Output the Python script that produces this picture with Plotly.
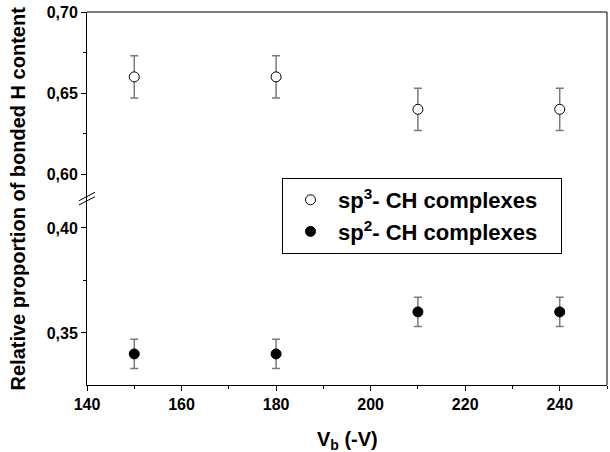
import plotly.graph_objects as go

vb = [150, 180, 210, 240]
sp3 = [0.66, 0.66, 0.64, 0.64]
sp3_err = [0.013, 0.013, 0.013, 0.013]
sp2 = [0.34, 0.34, 0.36, 0.36]
sp2_err = [0.007, 0.007, 0.007, 0.007]

FONT = "Arial, Liberation Sans, sans-serif"
ERRC = "#7a7a7a"

fig = go.Figure()
fig.add_trace(go.Scatter(
    x=vb, y=sp3, mode="markers", yaxis="y2", name="sp<sup>3</sup>- CH complexes\u00a0\u00a0\u00a0",
    marker=dict(symbol="circle", size=10, color="white", line=dict(color="black", width=1)),
    error_y=dict(type="data", array=sp3_err, color=ERRC, thickness=1.5, width=4),
))
fig.add_trace(go.Scatter(
    x=vb, y=sp2, mode="markers", yaxis="y", name="sp<sup>2</sup>- CH complexes\u00a0\u00a0\u00a0",
    marker=dict(symbol="circle", size=10, color="black", line=dict(color="black", width=1)),
    error_y=dict(type="data", array=sp2_err, color=ERRC, thickness=1.5, width=4),
))

axis_common = dict(
    showline=True, linecolor="black", linewidth=1, ticks="outside", ticklen=5,
    tickcolor="black", tickwidth=1, showgrid=False, zeroline=False,
    tickfont=dict(family=FONT, size=16, color="black", weight="bold"),
)

fig.update_layout(
    width=610, height=452,
    margin=dict(l=87, r=3, t=12, b=67),
    plot_bgcolor="white", paper_bgcolor="white",
    separators=",.",
    showlegend=True,
    legend=dict(
        x=0.375, y=0.555, xanchor="left", yanchor="top",
        bordercolor="black", borderwidth=1, bgcolor="white",
        font=dict(family=FONT, size=22, color="black", weight="bold"),
        traceorder="normal", itemwidth=45,
    ),
    xaxis=dict(
        range=[140, 250], tickvals=[140, 160, 180, 200, 220, 240], anchor="y",
        minor=dict(dtick=10, tick0=140, ticks="outside", ticklen=3, tickcolor="black"),
        **axis_common,
    ),
    yaxis=dict(
        domain=[0, 0.5], range=[0.3252, 0.414], tickvals=[0.35, 0.40], tickformat=".2f",
        minor=dict(tickvals=[0.375], ticks="outside", ticklen=3, tickcolor="black"),
        anchor="x", **axis_common,
    ),
    yaxis2=dict(
        domain=[0.5, 1], range=[0.585, 0.70], tickvals=[0.60, 0.65, 0.70], tickformat=".2f",
        minor=dict(tickvals=[0.625, 0.675], ticks="outside", ticklen=3, tickcolor="black"),
        anchor="x", **axis_common,
    ),
    shapes=[
        dict(type="line", xref="paper", yref="paper", x0=0, x1=1, y0=1, y1=1,
             line=dict(color="black", width=1)),
        dict(type="line", xref="paper", yref="paper", x0=1, x1=1, y0=0, y1=1,
             line=dict(color="black", width=1)),
        dict(type="line", xref="paper", yref="paper", x0=-0.0154, x1=0.0154, y0=0.494, y1=0.5166,
             line=dict(color="black", width=1)),
        dict(type="line", xref="paper", yref="paper", x0=-0.0154, x1=0.0154, y0=0.4826, y1=0.5048,
             line=dict(color="black", width=1)),
    ],
    annotations=[
        dict(text="Relative proportion of bonded H content", xref="paper", yref="paper",
             x=-0.1327, y=0.5, textangle=-90, showarrow=False, xanchor="center", yanchor="middle",
             font=dict(family=FONT, size=20, color="black", weight="bold")),
        dict(text="V<sub>b</sub> (-V)", xref="paper", yref="paper",
             x=0.5, y=-0.15, showarrow=False, xanchor="center", yanchor="middle",
             font=dict(family=FONT, size=20, color="black", weight="bold")),
    ],
)

fig.write_html("out.html", config={"displayModeBar": False},
               post_script="document.body.style.margin='0px';")
